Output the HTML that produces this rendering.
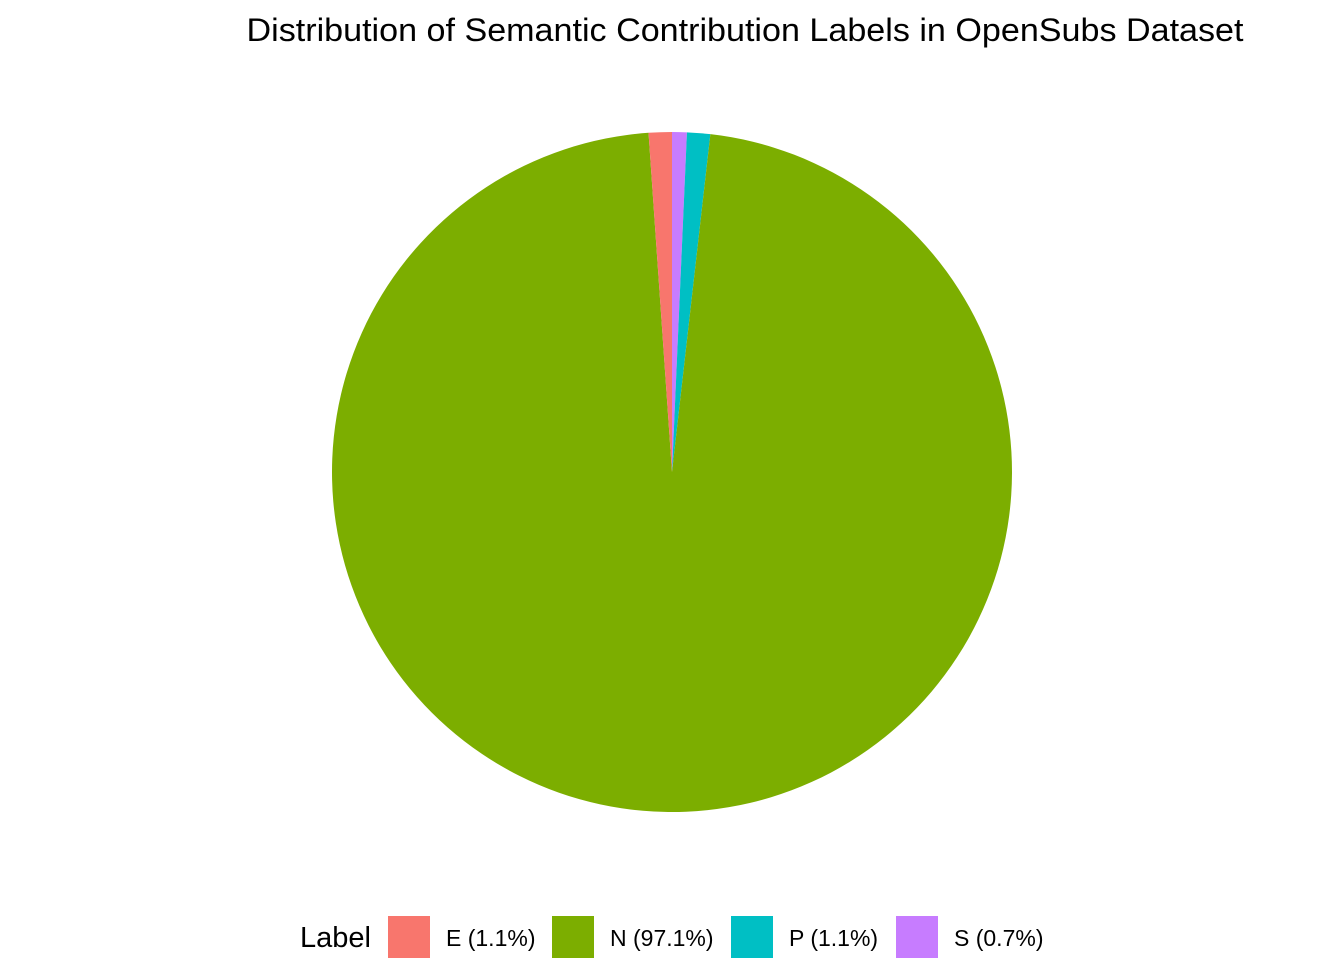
<!DOCTYPE html>
<html><head><meta charset="utf-8"><style>
html,body{margin:0;padding:0;background:#fff;}
body{width:1344px;height:960px;overflow:hidden;font-family:"Liberation Sans",sans-serif;}
</style></head><body>
<svg width="1344" height="960" xmlns="http://www.w3.org/2000/svg">
<text x="745" y="41" font-size="32" text-anchor="middle" fill="#000" textLength="997" lengthAdjust="spacingAndGlyphs">Distribution of Semantic Contribution Labels in OpenSubs Dataset</text>
<g id="slices"></g>
<g id="legend"></g>
</svg>
<script>
const categories = ["E", "N", "P", "S"];
const values = [1.1, 97.1, 1.1, 0.7];
const legendLabels = ["E (1.1%)", "N (97.1%)", "P (1.1%)", "S (0.7%)"];
const colors = ["#F8766D", "#7CAE00", "#00BFC4", "#C77CFF"];

const ns = "http://www.w3.org/2000/svg";
const cx = 672, cy = 472, r = 340;
const total = values.reduce((a, b) => a + b, 0);
const slices = document.getElementById("slices");
let start = 0;
for (let i = categories.length - 1; i >= 0; i--) {
  const frac = values[i] / total;
  const a0 = start * 2 * Math.PI, a1 = (start + frac) * 2 * Math.PI;
  const x0 = cx + r * Math.sin(a0), y0 = cy - r * Math.cos(a0);
  const x1 = cx + r * Math.sin(a1), y1 = cy - r * Math.cos(a1);
  const large = frac > 0.5 ? 1 : 0;
  const p = document.createElementNS(ns, "path");
  p.setAttribute("d", `M${cx},${cy} L${x0},${y0} A${r},${r} 0 ${large} 1 ${x1},${y1} Z`);
  p.setAttribute("fill", colors[i]);
  
  
  slices.appendChild(p);
  start += frac;
}

const legend = document.getElementById("legend");
const t = document.createElementNS(ns, "text");
t.setAttribute("x", 300); t.setAttribute("y", 947);
t.setAttribute("font-size", "29"); t.textContent = "Label";


legend.appendChild(t);
const keyX = [388, 552, 731, 896];
for (let i = 0; i < categories.length; i++) {
  const g = document.createElementNS(ns, "g");
  
  
  const rect = document.createElementNS(ns, "rect");
  rect.setAttribute("x", keyX[i]); rect.setAttribute("y", 916);
  rect.setAttribute("width", 42); rect.setAttribute("height", 42);
  rect.setAttribute("fill", colors[i]);
  g.appendChild(rect);
  const tx = document.createElementNS(ns, "text");
  tx.setAttribute("x", keyX[i] + 58); tx.setAttribute("y", 946);
  tx.setAttribute("font-size", "23"); tx.textContent = legendLabels[i];
  g.appendChild(tx);
  legend.appendChild(g);
}
</script>
</body></html>
